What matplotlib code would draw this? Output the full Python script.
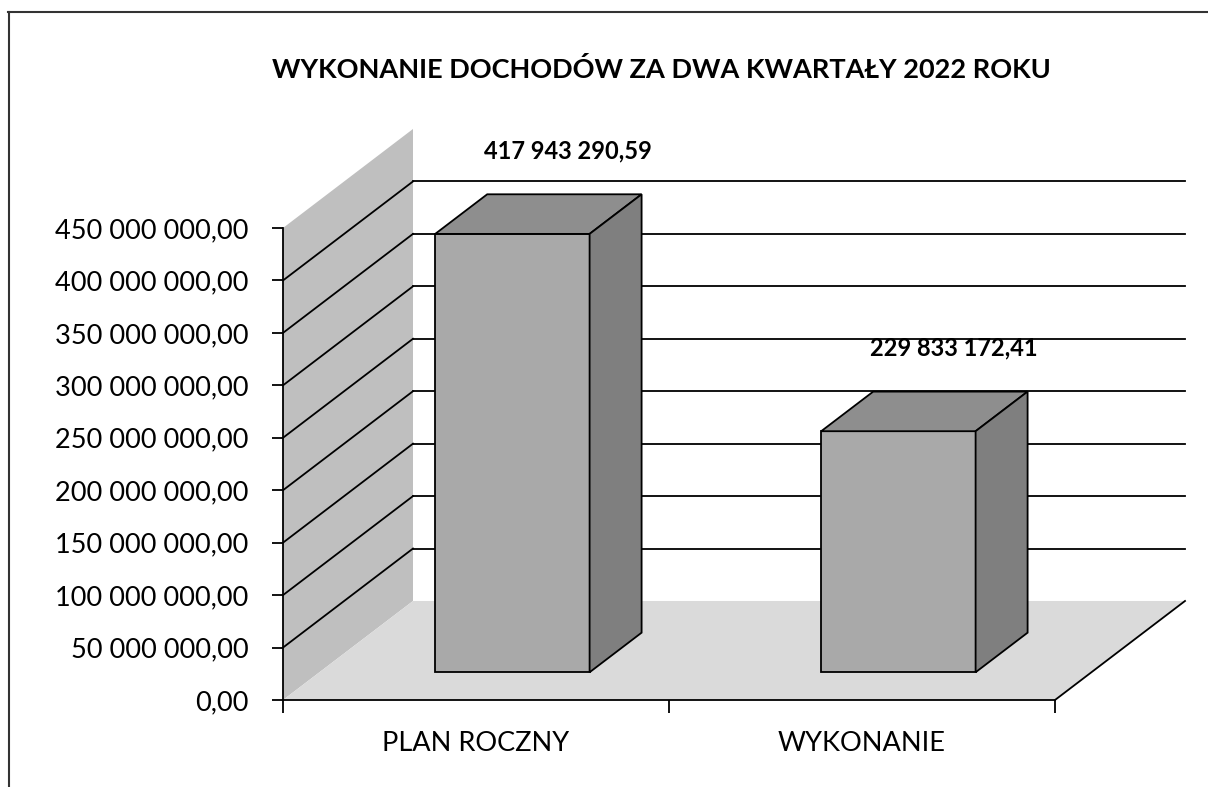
import matplotlib
matplotlib.use("Agg")
import matplotlib.pyplot as plt
from matplotlib.patches import Polygon
from matplotlib.lines import Line2D

# dane
kategorie = ["PLAN ROCZNY", "WYKONANIE"]
wartosci = [417943290.59, 229833172.41]
os_y = [0, 50e6, 100e6, 150e6, 200e6, 250e6, 300e6, 350e6, 400e6, 450e6]
linie_siatki = [50e6, 100e6, 150e6, 200e6, 250e6, 300e6, 350e6, 400e6]

plt.rcParams['font.family'] = ['Lato', 'DejaVu Sans']

def fmt(v):
    return f"{v:,.2f}".replace(",", " ").replace(".", ",")

# przesuniecie glebokosci (rzut ukosny)
DX = 130 / 386
DY = 94.4e6
D0, D1 = 0.28, 0.68
W = 0.40

fig = plt.figure(figsize=(12.08, 7.87), dpi=100)
ax = fig.add_axes([283/1208, 87/787, 772/1208, 472/787])
ax.set_facecolor('none')
ax.set_xlim(0, 2)
ax.set_ylim(0, 450e6)

# sciana boczna
ax.add_patch(Polygon([(0, 0), (0, 450e6), (DX, 450e6 + DY), (DX, DY)],
                     closed=True, facecolor='#bfbfbf', edgecolor='none', zorder=1, clip_on=False))
# podloga
ax.add_patch(Polygon([(0, 0), (2, 0), (2 + DX, DY), (DX, DY)],
                     closed=True, facecolor='#dadada', edgecolor='none', zorder=1, clip_on=False))
ax.plot([2, 2 + DX], [0, DY], color='black', lw=1.3, zorder=2, clip_on=False)

# linie siatki
for v in linie_siatki:
    ax.plot([DX, 2 + DX], [v + DY, v + DY], color='black', lw=1.3, zorder=2, clip_on=False)
    ax.plot([0, DX], [v, v + DY], color='black', lw=1.3, zorder=2, clip_on=False)

# slupki
for i, v in enumerate(wartosci):
    c = i + 0.5
    x0, x1 = c - W / 2, c + W / 2
    front = [(x0 + D0*DX, D0*DY), (x1 + D0*DX, D0*DY), (x1 + D0*DX, v + D0*DY), (x0 + D0*DX, v + D0*DY)]
    top = [(x0 + D0*DX, v + D0*DY), (x1 + D0*DX, v + D0*DY), (x1 + D1*DX, v + D1*DY), (x0 + D1*DX, v + D1*DY)]
    side = [(x1 + D0*DX, D0*DY), (x1 + D1*DX, D1*DY), (x1 + D1*DX, v + D1*DY), (x1 + D0*DX, v + D0*DY)]
    for pts, col in [(front, '#a9a9a9'), (top, '#8e8e8e'), (side, '#7f7f7f')]:
        ax.add_patch(Polygon(pts, closed=True, facecolor=col, edgecolor='black',
                             lw=1.3, zorder=3, clip_on=False))
    ax.text(c + D1*DX + 0.01, v + 106e6, fmt(v), ha='center', va='center',
            fontsize=17, fontweight='bold', zorder=4)

# osie
ax.spines['top'].set_visible(False)
ax.spines['right'].set_visible(False)
ax.spines['left'].set_linewidth(1.3)
ax.spines['bottom'].set_linewidth(1.3)
ax.set_yticks(os_y)
ax.set_yticklabels([fmt(v) for v in os_y], fontsize=19.5)
ax.tick_params(axis='y', direction='out', length=8, width=1.3, pad=17)
ax.set_xticks([0, 1, 2])
ax.set_xticklabels([])
ax.set_xticks([0.5, 1.5], minor=True)
ax.set_xticklabels(kategorie, minor=True, fontsize=19.5)
ax.tick_params(axis='x', which='major', direction='out', length=9, width=1.3)
ax.tick_params(axis='x', which='minor', length=0, pad=22)

fig.text(661/1208, 1 - 70/787, "WYKONANIE DOCHODÓW ZA DWA KWARTAŁY 2022 ROKU",
         ha='center', va='center', fontsize=19.5, fontweight='bold')

# ramka
fig.add_artist(Line2D([8/1208, 1], [1 - 12/787, 1 - 12/787], color='#333333', lw=1.5))
fig.add_artist(Line2D([9/1208, 9/1208], [0, 1 - 12/787], color='#333333', lw=1.5))

fig.savefig("out.png", dpi=100)
